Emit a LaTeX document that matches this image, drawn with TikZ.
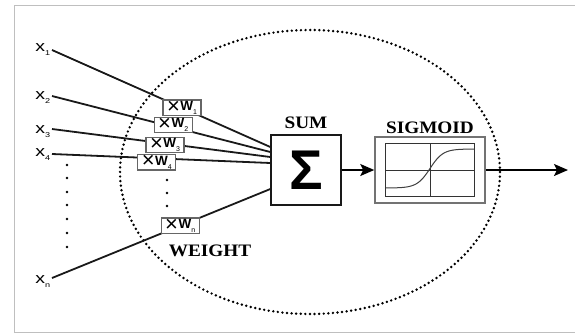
\documentclass[tikz,border=0pt]{standalone}
\usepackage{fontspec}
\setmainfont{Liberation Serif}
\setsansfont{Liberation Sans}
\usetikzlibrary{arrows.meta,calc}
\newcommand\mysub[1]{\raisebox{-0.3em}{\fontsize{7}{7}\selectfont #1}}
\newcommand\wlabel[1]{\raisebox{-2.6pt}{\fontsize{22}{22}\selectfont ×}\kern0.5pt\textbf{W}\mysub{#1}}
\begin{document}
\begin{tikzpicture}[x=1pt,y=-1pt,
  inp/.style={font=\sffamily\fontsize{15}{15}\selectfont, xscale=1.3, inner sep=0pt, anchor=mid west},
  conn/.style={line width=1.8pt, black!90},
  wbox/.style={draw=black!60, line width=1.3pt, fill=white, minimum width=38pt, minimum height=15.5pt, inner sep=0pt, font=\sffamily\fontsize{13.5}{13.5}\selectfont},
  title/.style={font=\bfseries\fontsize{17.5}{17.5}\selectfont, xscale=1.1, inner sep=0pt},
  ring/.style={dash pattern=on 0pt off 4.6pt, line cap=round, line width=2.7pt},
  arr/.style={line width=1.8pt, -{Stealth[length=14pt,width=12pt,inset=3pt]}},
  frame/.style={draw=black!25, line width=0.8pt}]
\useasboundingbox (0,0) rectangle (575,333);
% frame
\draw[frame] (14,333) -- (14,5) -- (575,5);
\draw[frame] (14,332) -- (575,332);
% dotted ellipse
\draw[ring] (310,172) ellipse [x radius=190, y radius=142];
% sum and sigmoid
\node[draw=black!90, line width=1.3pt, fill=white, minimum size=70pt, inner sep=0pt] (sum) at (306,170)
  {\sffamily\bfseries\fontsize{56}{56}\selectfont\raisebox{-2pt}{Σ}};
\node[title] (sumlab) at (306,123) {SUM};
\node[draw=black!55, line width=1.5pt, fill=white, minimum width=110pt, minimum height=66pt, inner sep=0pt] (sig) at (430,170) {};
\node[draw=black!80, line width=1pt, minimum width=89pt, minimum height=53pt, inner sep=0pt] (sigin) at (sig.center) {};
\node[title] (siglab) at (430,128) {SIGMOID};
\draw[black!80, line width=1pt] (sigin.north) -- (sigin.south);
\draw[black!80, line width=1pt] (sigin.west) -- (sigin.east);
\draw[black!75, line width=1pt, shift={(sig.center)}] plot[domain=-44:44, samples=60, smooth] (\x, {-1.5 - 19.5*tanh(\x/13)});
% inputs
\node[inp] (l1) at (35,49) {x\mysub{1}};
\node[inp] (l2) at (35,97) {x\mysub{2}};
\node[inp] (l3) at (35,131) {x\mysub{3}};
\node[inp] (l4) at (35,154) {x\mysub{4}};
\node[inp] (ln) at (35,281) {x\mysub{n}};
\coordinate (s1) at (52,50);
\coordinate (s2) at (52,96);
\coordinate (s3) at (52,129);
\coordinate (s4) at (52,154);
\coordinate (sn) at (52,278);
\draw[conn] (s1) -- ([yshift=23pt]sum.west);
\draw[conn] (s2) -- ([yshift=18pt]sum.west);
\draw[conn] (s3) -- ([yshift=13pt]sum.west);
\draw[conn] (s4) -- ([yshift=7pt]sum.west);
\draw[conn] (sn) -- ([yshift=-19pt]sum.west);
% weight boxes
\node[wbox] (w1) at ($(s1)!0.596!([yshift=23pt]sum.west)$) {\wlabel{1}};
\node[wbox, yshift=2pt] (w2) at ($(s2)!0.555!([yshift=18pt]sum.west)$) {\wlabel{2}};
\node[wbox, yshift=-1.5pt] (w3) at ($(s3)!0.518!([yshift=13pt]sum.west)$) {\wlabel{3}};
\node[wbox, yshift=-4pt] (w4) at ($(s4)!0.48!([yshift=7pt]sum.west)$) {\wlabel{4}};
\node[wbox] (wn) at ($(sn)!0.587!([yshift=-19pt]sum.west)$) {\wlabel{n}};
\node[title] (wlab) at (210,251) {WEIGHT};
% dots
\foreach \yy in {165,178,192,205,219,233,247} \fill (67,\yy) circle (1.3pt);
\foreach \yy in {180,193,206} \fill (167,\yy) circle (1.3pt);
% arrows
\coordinate (out) at (568,170);
\draw[arr] (sum.east) -- (sig.west);
\draw[arr] (sig.east) -- (out);
\end{tikzpicture}
\end{document}
